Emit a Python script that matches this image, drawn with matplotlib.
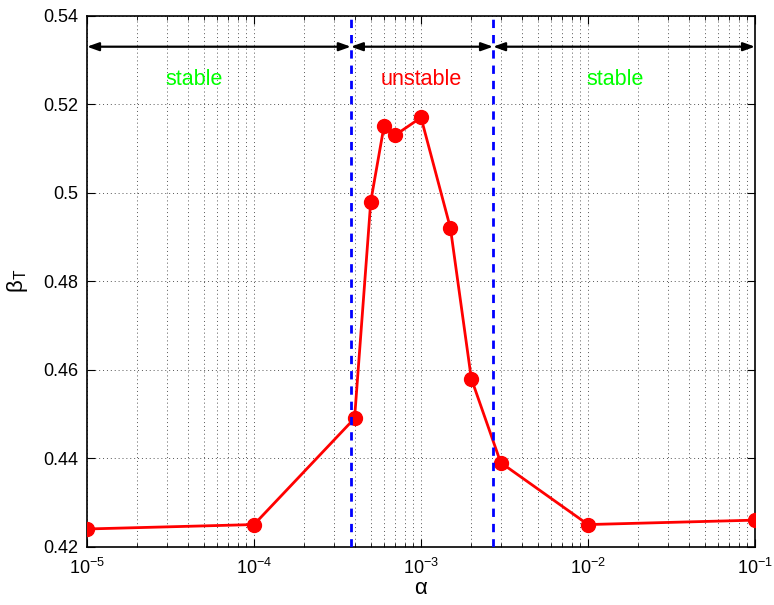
import matplotlib
matplotlib.use("Agg")
import matplotlib.pyplot as plt
from matplotlib.ticker import LogLocator, NullFormatter

plt.rcParams['font.family'] = ['Liberation Sans', 'DejaVu Sans']
plt.rcParams['mathtext.fontset'] = 'custom'
plt.rcParams['mathtext.rm'] = 'Liberation Sans'
plt.rcParams['mathtext.it'] = 'Liberation Sans:italic'
plt.rcParams['mathtext.bf'] = 'Liberation Sans:bold'

alpha = [1e-5, 1e-4, 4e-4, 5e-4, 6e-4, 7e-4, 1e-3, 1.5e-3, 2e-3, 3e-3, 1e-2, 1e-1]
beta_T = [0.424, 0.425, 0.449, 0.498, 0.515, 0.513, 0.517, 0.492, 0.458, 0.439, 0.425, 0.426]
boundaries = [3.8e-4, 2.7e-3]
region_labels = ["stable", "unstable", "stable"]
region_colors = ["#00ff00", "#ff0000", "#00ff00"]
label_x = [4.4e-5, 1.0e-3, 1.45e-2]
label_y = 0.5257
arrow_y = 0.533
xlim = (1e-5, 1e-1)
ylim = (0.42, 0.54)
yticks = [0.42, 0.44, 0.46, 0.48, 0.5, 0.52, 0.54]
ytick_labels = ["0.42", "0.44", "0.46", "0.48", "0.5", "0.52", "0.54"]

fig = plt.figure(figsize=(7.74, 6.05), dpi=100)
ax = fig.add_axes([0.1124, 0.0964, 0.8631, 0.8776])

ax.set_xscale('log')
ax.set_xlim(*xlim)
ax.set_ylim(*ylim)
ax.set_yticks(yticks)
ax.set_yticklabels(ytick_labels)
ax.xaxis.set_major_locator(LogLocator(base=10, numticks=10))
ax.xaxis.set_minor_locator(LogLocator(base=10, subs=range(2, 10), numticks=50))
ax.xaxis.set_minor_formatter(NullFormatter())

ax.grid(True, which='major', axis='both', linestyle=(0, (1, 3)), color='#555555', linewidth=0.7)
ax.grid(True, which='minor', axis='x', linestyle=(0, (1, 3)), color='#555555', linewidth=0.7)

ax.tick_params(which='both', direction='in', top=True, right=True, labelsize=13, pad=6)
ax.tick_params(axis='x', pad=8)
ax.tick_params(which='major', length=6)
ax.tick_params(which='minor', length=3)
for s in ax.spines.values():
    s.set_linewidth(1.2)

ax.plot(alpha, beta_T, color='#ff0000', linewidth=2, marker='o', markersize=10, zorder=3)

for b in boundaries:
    ax.axvline(b, color='#0000ff', linestyle=(0, (3, 2.5)), linewidth=2, zorder=4)

edges = [xlim[0]] + boundaries + [xlim[1]]
for i in range(len(edges) - 1):
    ax.annotate('', xy=(edges[i], arrow_y), xytext=(edges[i + 1], arrow_y),
                arrowprops=dict(arrowstyle='<|-|>,head_length=0.7,head_width=0.25',
                                color='black', linewidth=1.6, shrinkA=0, shrinkB=0),
                zorder=5)

for x, t, c in zip(label_x, region_labels, region_colors):
    ax.text(x, label_y, t, color=c, fontsize=15.5, ha='center', va='center')

ax.set_xlabel(r'$\mathrm{\alpha}$', fontsize=16, labelpad=0)
ax.set_ylabel(r'$\mathrm{\beta_T}$', fontsize=16, labelpad=10)

fig.savefig('out.png', dpi=100)
